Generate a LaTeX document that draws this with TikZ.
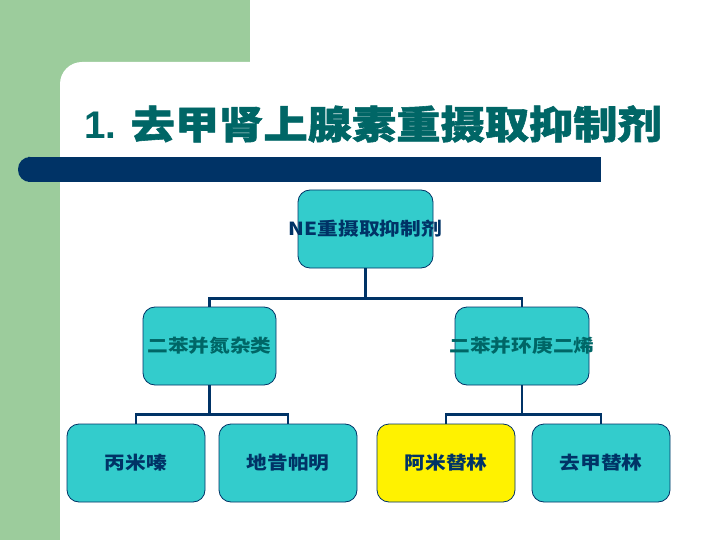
\documentclass[tikz,border=0pt]{standalone}
\usepackage{fontspec}
\setmainfont{Liberation Sans}
\newfontfamily\cjk{Noto Sans CJK SC}[FakeStretch=1.15]
\newfontfamily\cjkheavy{Noto Sans CJK SC}[FakeStretch=1.15,FakeBold=1.5]
\definecolor{navy}{RGB}{0,51,102}
\definecolor{tealtext}{RGB}{0,102,102}
\definecolor{boxcyan}{RGB}{51,204,204}
\definecolor{sidegreen}{RGB}{156,204,156}

\begin{document}
\begin{tikzpicture}[x=1pt,y=-1pt,
  box/.style={draw=navy,line width=.8pt,fill=boxcyan,rounded corners=12pt,
    minimum width=137pt,minimum height=78pt,inner sep=0pt,
    font=\cjk\bfseries\fontsize{18}{20}\selectfont,text=navy},
  link/.style={draw=navy,line width=2.6pt}]
\useasboundingbox (0,0) rectangle (720,540);
% background panels
\fill[sidegreen] (0,0) rectangle (250,540);
\fill[white,rounded corners=22pt] (60,62) rectangle (760,580);
\fill[navy,rounded corners=12pt] (18,157) rectangle (40,182);
\fill[navy] (30,157) rectangle (601,182);
\node[anchor=west,inner sep=0pt,text=tealtext,font=\bfseries\fontsize{38.5}{40}\selectfont]
  (title) at (84,124) {1. {\cjkheavy 去甲肾上腺素重摄取抑制剂}};
% tree
\node[box,minimum width=135pt] (ne) at (365.5,229) {\makebox[0pt]{NE重摄取抑制剂}};
\node[box,minimum width=133pt,text=tealtext] (dza) at (209.5,346) {二苯并氮杂类};
\node[box,minimum width=134pt,text=tealtext] (dhb) at (522,346) {\makebox[0pt]{二苯并环庚二烯}};
\node[box,minimum width=138pt] (imi) at (136,463) {丙米嗪};
\node[box,minimum width=138pt] (des) at (288,463) {地昔帕明};
\node[box,minimum width=138pt,fill=yellow] (ami) at (446,463) {阿米替林};
\node[box,minimum width=138pt] (nor) at (601,463) {去甲替林};
\draw[link] (ne.south) -- ++(0,30) -| (dza.north);
\draw[link] (ne.south) -- ++(0,30) -| (dhb.north);
\draw[link] (dza.south) -- ++(0,29) -| (imi.north);
\draw[link] (dza.south) -- ++(0,29) -| (des.north);
\draw[link] (dhb.south) -- ++(0,29) -| (ami.north);
\draw[link] (dhb.south) -- ++(0,29) -| (nor.north);
\end{tikzpicture}
\end{document}
